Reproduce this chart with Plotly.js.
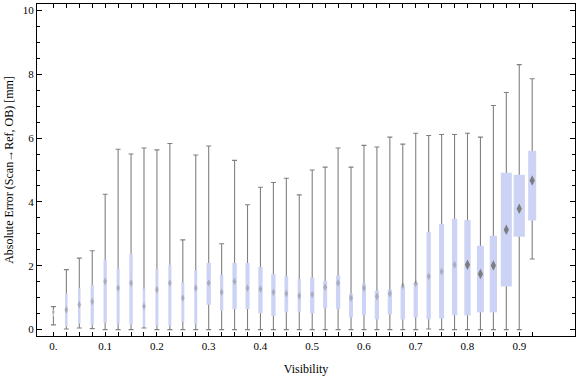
<!DOCTYPE html>
<html>
<head>
<meta charset="utf-8">
<script src="https://cdn.plot.ly/plotly-3.0.1.min.js"></script>
<style>html,body{margin:0;padding:0;background:#fff;}#chart{width:576px;height:377px;}</style>
</head>
<body>
<div id="chart"></div>
<script>
// Visibility bins (box positions)
var visibility = [0.000,0.025,0.050,0.075,0.100,0.125,0.150,0.175,0.200,0.225,
                  0.250,0.275,0.300,0.325,0.350,0.375,0.400,0.425,0.450,0.475,
                  0.500,0.525,0.550,0.575,0.600,0.625,0.650,0.675,0.700,0.725,
                  0.750,0.775,0.800,0.825,0.850,0.875,0.900,0.925];
// Whisker minimum
var whiskerMin = [0.15,0.02,0.05,0.03,0.00,0.00,0.00,0.05,0.00,0.00,
                  0.00,0.00,0.00,0.00,0.00,0.00,0.00,0.00,0.00,0.00,
                  0.00,0.00,0.00,0.00,0.00,0.00,0.00,0.00,0.00,0.02,
                  0.00,0.00,0.00,0.00,0.00,0.00,0.00,2.21];
// First quartile
var q1 = [0.42,0.10,0.19,0.15,0.21,0.19,0.16,0.10,0.12,0.12,
          0.25,0.16,0.78,0.60,0.64,0.64,0.51,0.43,0.54,0.55,
          0.51,0.67,0.65,0.385,0.45,0.32,0.48,0.32,0.38,0.32,
          0.35,0.45,0.45,0.54,0.54,1.35,2.91,3.42];
// Central marker (diamond)
var centre = [0.55,0.62,0.78,0.88,1.51,1.30,1.46,0.73,1.25,1.46,
              0.99,1.30,1.46,1.17,1.51,1.30,1.27,1.17,1.125,1.06,
              1.10,1.33,1.46,0.99,1.30,1.04,1.125,1.38,1.45,1.67,
              1.82,2.03,2.03,1.74,2.01,3.13,3.79,4.67];
// Third quartile
var q3 = [0.62,1.13,1.31,1.40,2.19,1.91,2.38,1.28,1.91,2.03,
          1.47,1.85,2.09,1.72,2.09,2.09,1.96,1.74,1.67,1.58,
          1.625,1.53,1.69,1.125,1.44,1.22,1.25,1.35,1.46,3.06,
          3.31,3.47,3.43,2.625,2.94,4.91,4.85,5.60];
// Whisker maximum
var whiskerMax = [0.72,1.88,2.24,2.47,4.24,5.65,5.50,5.69,5.63,5.83,
                  2.81,5.47,5.75,2.69,5.30,3.91,4.46,4.61,4.74,4.22,
                  5.00,5.09,5.69,5.09,5.77,5.72,6.03,5.81,6.15,6.08,
                  6.11,6.11,6.15,6.03,7.02,7.43,8.30,7.86];
// Axis tick labels
var xTickValues = [0,0.1,0.2,0.3,0.4,0.5,0.6,0.7,0.8,0.9];
var xTickLabels = ["0.","0.1","0.2","0.3","0.4","0.5","0.6","0.7","0.8","0.9"];
var yTickValues = [0,2,4,6,8,10];
var yTickLabels = ["0","2","4","6","8","10"];

// Style: drawn box widths in pixels
var boxWidthPx = [1,2.5,2.5,3.3,3.3,3,3.3,2.5,3,3,
                  3,3,4.3,3.3,4.3,4,4.3,4.3,3.7,3.3,
                  4.3,4,4.3,4,4,4.3,4.3,4.5,4.3,4.3,
                  5,5.3,6.3,7,7.3,11,11.3,8];

var xRange = [-0.0317, 1.0077];
var plotWidthPx = 576 - 37 - 1;
var pxToData = (xRange[1] - xRange[0]) / plotWidthPx;

var boxBase = q1.slice();
var boxHeight = q3.map(function(v, i){ return v - q1[i]; });
var boxWidth = boxWidthPx.map(function(w){ return w * pxToData; });
var errPlus = whiskerMax.map(function(v, i){ return v - centre[i]; });
var errMinus = whiskerMin.map(function(v, i){ return centre[i] - v; });
var markerSize = boxWidthPx.map(function(w){ return w >= 6 ? 7.5 : (w < 2 ? 4 : 5.5); });
var markerOpacity = boxWidthPx.map(function(w){ return w >= 6 ? 0.95 : 0.42; });

var font = "Liberation Serif, Times New Roman, Times, serif";

var whiskers = {
  type: 'bar', x: visibility, y: centre, base: 0,
  marker: {color: 'rgba(0,0,0,0)', line: {width: 0}},
  error_y: {type: 'data', symmetric: false, array: errPlus, arrayminus: errMinus,
            color: '#808080', thickness: 1.1, width: 2.5},
  hoverinfo: 'skip', showlegend: false
};
var boxes = {
  type: 'bar', x: visibility, y: boxHeight, base: boxBase, width: boxWidth,
  marker: {color: '#ccd3f5', line: {width: 0}},
  showlegend: false
};
var markers = {
  type: 'scatter', mode: 'markers', x: visibility, y: centre,
  marker: {symbol: 'diamond-tall', size: markerSize, color: '#787878',
           opacity: markerOpacity, line: {width: 0}},
  showlegend: false
};

var layout = {
  width: 576, height: 377,
  margin: {l: 37, r: 1, t: 4, b: 41, pad: 0},
  paper_bgcolor: '#fff', plot_bgcolor: '#fff',
  barmode: 'overlay',
  font: {family: font, size: 11, color: '#000'},
  showlegend: false,
  xaxis: {
    range: xRange, showgrid: false, zeroline: false,
    showline: true, linecolor: '#000', linewidth: 1, mirror: 'ticks',
    ticks: 'inside', ticklen: 4, tickcolor: '#000', tickwidth: 1,
    tickmode: 'array', tickvals: xTickValues, ticktext: xTickLabels,
    minor: {tickmode: 'array', tickvals: visibility, ticks: 'inside', ticklen: 4, tickcolor: '#000', tickwidth: 1, showgrid: false},
    tickfont: {family: font, size: 11, color: '#000'},
    title: {text: 'Visibility', font: {family: font, size: 12, color: '#000'}, standoff: 13}
  },
  yaxis: {
    range: [-0.2, 10.2], showgrid: false, zeroline: false,
    showline: true, linecolor: '#000', linewidth: 1, mirror: 'ticks',
    ticks: 'inside', ticklen: 5, tickcolor: '#000', tickwidth: 1,
    tickmode: 'array', tickvals: yTickValues, ticktext: yTickLabels,
    minor: {dtick: 0.5, tick0: 0, ticks: 'inside', ticklen: 3, tickcolor: '#000', tickwidth: 1, showgrid: false},
    tickfont: {family: font, size: 11, color: '#000'},
    title: {text: 'Absolute Error (Scan→Ref, OB) [mm]', font: {family: font, size: 12, color: '#000'}, standoff: 6}
  }
};

Plotly.newPlot('chart', [whiskers, boxes, markers], layout, {staticPlot: true, displayModeBar: false});
</script>
</body>
</html>
